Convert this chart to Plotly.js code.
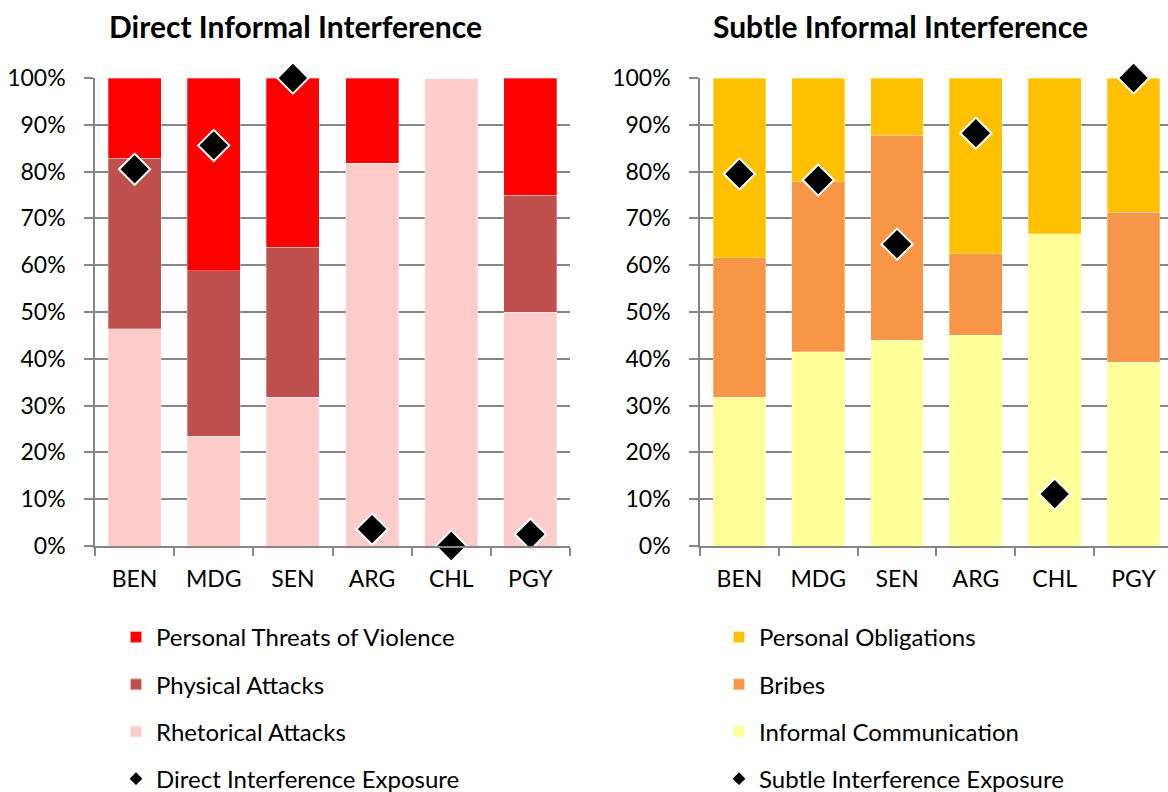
<!DOCTYPE html>
<html>
<head>
<meta charset="utf-8">
<script src="https://cdn.plot.ly/plotly-3.0.1.min.js"></script>
<style>html,body{margin:0;padding:0;background:#fff;}#chart{width:1168px;height:792px;}</style>
</head>
<body>
<div id="chart"></div>
<script>
var countries = ["BEN", "MDG", "SEN", "ARG", "CHL", "PGY"];
var yTickVals = [0, 10, 20, 30, 40, 50, 60, 70, 80, 90, 100];
var yTickText = ["0%", "10%", "20%", "30%", "40%", "50%", "60%", "70%", "80%", "90%", "100%"];

// Direct informal interference (shares, %)
var rhetoricalAttacks = [46.4, 23.5, 31.8, 81.8, 100, 50.0];
var physicalAttacks   = [36.5, 35.3, 32.0, 0, 0, 25.0];
var personalThreats   = [17.1, 41.2, 36.2, 18.2, 0, 25.0];
var directExposure    = [80.5, 85.6, 100, 3.6, 0, 2.5];

// Subtle informal interference (shares, %)
var informalCommunication = [31.8, 41.5, 44.0, 45.0, 66.7, 39.3];
var bribes                = [29.8, 36.3, 43.8, 17.4, 0, 32.0];
var personalObligations   = [38.4, 22.2, 12.2, 37.6, 33.3, 28.7];
var subtleExposure        = [79.5, 78.2, 64.5, 88.2, 11.1, 100];

var FONT = "Lato, 'Liberation Sans', sans-serif";
var GRID = "#868686";

function bar(name, vals, color, xa, ya, leg, rank) {
  return {type: "bar", name: name, x: countries, y: vals, xaxis: xa, yaxis: ya,
    marker: {color: color, line: {color: "rgba(255,255,255,0.6)", width: 0.5}},
    legend: leg, legendgroup: name, legendrank: rank, hoverinfo: "x+y+name"};
}
function diamonds(name, vals, xa, ya, leg, rank) {
  return {type: "scatter", mode: "markers", name: name, x: countries, y: vals,
    xaxis: xa, yaxis: ya, cliponaxis: false,
    marker: {symbol: "diamond", size: 24, color: "#000", line: {color: "#fff", width: 2}},
    legend: leg, legendgroup: name, legendrank: rank};
}

var data = [
  bar("Rhetorical Attacks", rhetoricalAttacks, "#FFCCCC", "x", "y", "legend", 3),
  bar("Physical Attacks", physicalAttacks, "#C0504D", "x", "y", "legend", 2),
  bar("Personal Threats of Violence", personalThreats, "#FF0000", "x", "y", "legend", 1),
  diamonds("Direct Interference Exposure", directExposure, "x", "y", "legend", 4),
  bar("Informal Communication", informalCommunication, "#FFFF99", "x2", "y2", "legend2", 3),
  bar("Bribes", bribes, "#F79646", "x2", "y2", "legend2", 2),
  bar("Personal Obligations", personalObligations, "#FFC000", "x2", "y2", "legend2", 1),
  diamonds("Subtle Interference Exposure", subtleExposure, "x2", "y2", "legend2", 4)
];

function xaxis(domain, range) {
  return {domain: domain, type: "category", range: range, showgrid: false,
    showline: true, linecolor: GRID, linewidth: 1.5, ticks: "outside", tickson: "boundaries",
    ticklen: 8, tickcolor: GRID, tickwidth: 1.5, ticklabelstandoff: 12, automargin: false,
    tickfont: {family: FONT, size: 23, color: "#000"}, zeroline: false, fixedrange: true};
}
function yaxis(domain, anchor) {
  return {domain: domain, anchor: anchor, range: [0, 100], tickmode: "array", tickvals: yTickVals,
    ticktext: yTickText, showgrid: true, gridcolor: GRID, gridwidth: 1.5, showline: true,
    linecolor: GRID, linewidth: 1.5, ticks: "outside", ticklen: 9, tickcolor: GRID, tickwidth: 1.5,
    ticklabelstandoff: 14, automargin: false,
    tickfont: {family: FONT, size: 23, color: "#000"}, zeroline: false, fixedrange: true};
}

var yDom = [(792 - 546) / 792, (792 - 78) / 792];

var legendCommon = {traceorder: "grouped", tracegroupgap: 13, bgcolor: "rgba(0,0,0,0)",
  font: {family: FONT, size: 24, color: "#000"}, itemsizing: "constant",
  xanchor: "left", yanchor: "top", orientation: "v"};

var layout = {
  width: 1168, height: 792, margin: {l: 0, r: 0, t: 0, b: 0, pad: 0, autoexpand: false},
  paper_bgcolor: "#fff", plot_bgcolor: "#fff",
  barmode: "stack", bargap: 0.33, showlegend: true,
  font: {family: FONT, color: "#000"},
  xaxis: Object.assign(xaxis([95 / 1168, 570 / 1168], [-0.5, 5.5]), {anchor: "y"}),
  yaxis: yaxis(yDom, "x"),
  xaxis2: Object.assign(xaxis([700 / 1168, 1], [-0.5, 5.437]), {anchor: "y2"}),
  yaxis2: yaxis(yDom, "x2"),
  legend: Object.assign({}, legendCommon, {x: 116 / 1168, y: (792 - 615) / 792}),
  legend2: Object.assign({}, legendCommon, {x: 719 / 1168, y: (792 - 615) / 792}),
  annotations: [
    {text: "<b>Direct Informal Interference</b>", xref: "paper", yref: "paper",
     x: 295 / 1168, y: (792 - 26) / 792, xanchor: "center", yanchor: "middle", showarrow: false,
     font: {family: FONT, size: 30, color: "#000"}},
    {text: "<b>Subtle Informal Interference</b>", xref: "paper", yref: "paper",
     x: 900 / 1168, y: (792 - 26) / 792, xanchor: "center", yanchor: "middle", showarrow: false,
     font: {family: FONT, size: 30, color: "#000"}}
  ]
};

Plotly.newPlot("chart", data, layout, {displayModeBar: false, responsive: false});
</script>
</body>
</html>
